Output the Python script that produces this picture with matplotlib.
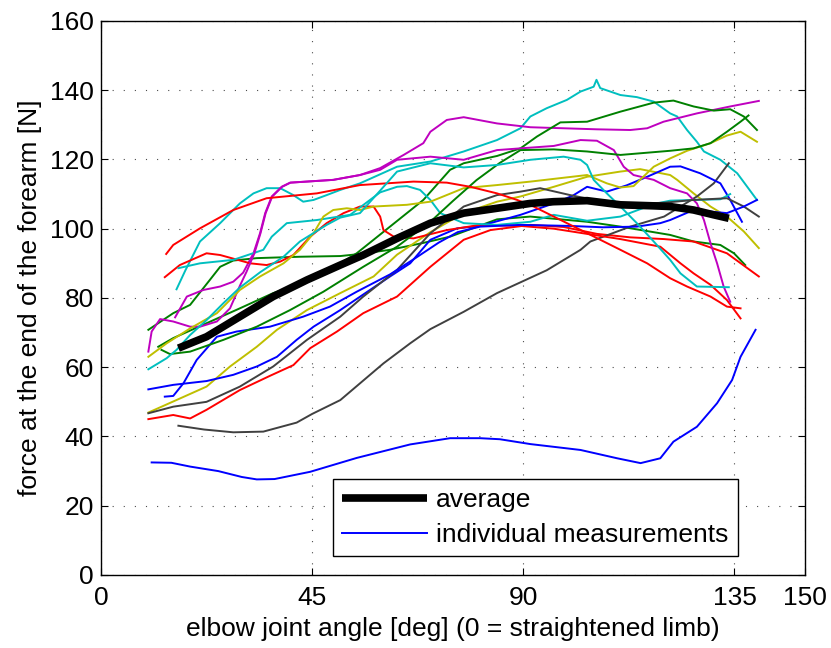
import matplotlib
matplotlib.use("Agg")
import matplotlib.pyplot as plt
from matplotlib.lines import Line2D

plt.rcParams["font.family"] = ["Liberation Sans", "DejaVu Sans"]

b1_x = [10.8, 15, 19, 25, 30, 33.2, 37, 44.6, 54.5, 65.9, 74.4, 80.8, 85, 91.5, 102.2, 110, 115, 119.2, 122, 127, 131.3, 134.5, 136.3, 139.5]
b1_y = [32.5, 32.4, 31.3, 30, 28.3, 27.6, 27.7, 29.8, 33.8, 37.7, 39.5, 39.5, 39.2, 37.8, 36.1, 33.7, 32.3, 33.7, 38.5, 42.8, 49.6, 56.3, 63, 70.8]

g1_x = [10.1, 15.4, 19, 23.2, 25.4, 28.2, 33.2, 42.4, 51, 55.2, 61.6, 68.7, 74.4, 84.4, 91.5, 103.6, 110.7, 121.3, 126.3, 132, 134.9, 137.3]
g1_y = [70.8, 75.6, 78, 85.2, 89, 90.8, 91.5, 91.9, 92.1, 92.7, 93.9, 95.9, 97.7, 102.7, 103.5, 102, 100.6, 98.2, 96.3, 95.3, 92.9, 89.5]

r1_x = [10.1, 15.4, 19, 22.5, 29.6, 36, 41, 44.6, 50.3, 55.9, 63.1, 70.2, 77.3, 83, 91.5, 98.6, 105.7, 112.8, 120, 126.3, 133.4, 140.2]
r1_y = [45, 46.2, 45.2, 47.7, 53.4, 57.5, 60.6, 65.5, 70.3, 75.6, 80.4, 89, 96.8, 99.6, 101.1, 100.5, 98.5, 97.5, 97, 96.3, 92.9, 86.2]

c1_x = [16.1, 18, 21.1, 25.4, 29.6, 32.5, 35.3, 38.2, 41, 43.1, 45.3, 48.1, 51, 55.2, 63.1, 70.2, 77.3, 84.4, 89.4, 91.5, 95, 99.3, 102.2, 105, 105.6, 106.4, 110.7, 114.2, 117.8, 121.3, 122.8, 124.9, 127, 128.5, 132, 135.6, 139.8]
c1_y = [82.5, 88, 96.3, 101.6, 107.3, 110.2, 111.7, 111.7, 109.7, 107.8, 108.3, 109.7, 111.2, 113.1, 117.9, 119.4, 122.3, 125.6, 129, 132.4, 134.8, 137.2, 139.6, 141, 143, 140.6, 138.6, 138, 136.7, 133.3, 132.4, 128.5, 125.1, 122.3, 119.9, 116, 108.3]

m1_x = [15.8, 18.3, 21.8, 25.4, 28.2, 30.3, 32.5, 33.9, 35, 36.4, 38.5, 40.3, 49.5, 55.2, 59.5, 64.5, 68.7, 70.2, 73.7, 77.3, 84.4, 91.5, 105.7, 112.8, 116.4, 119.9, 127, 134.1, 140.2]
m1_y = [74.4, 80.4, 82.3, 83.3, 84.7, 87.3, 92.9, 98.7, 104.5, 109.3, 112.1, 113.3, 114.1, 115.5, 117.5, 121.3, 124.7, 128, 131.4, 132.2, 130.4, 129.3, 128.7, 128.5, 129, 130.9, 133.3, 135.3, 136.9]

y1_x = [10.1, 15.4, 22.5, 27.5, 33.2, 37.5, 43.9, 51, 58.1, 63.1, 70.2, 77.3, 84.4, 89.4, 96.5, 103.6, 110.7, 114.9, 121.3, 122.8, 126.3, 129.9, 133.4, 137, 140.2]
y1_y = [46.9, 50.1, 54.4, 60.2, 65.9, 70.8, 76.5, 81.4, 86.2, 92.5, 99, 104.5, 107.8, 109.3, 112.1, 115, 116.5, 117.2, 115.5, 114.1, 110.2, 106.4, 103.5, 99.2, 94.4]

k1_x = [16.5, 22, 28.2, 34.6, 41.7, 45, 51, 60.2, 65.9, 70.2, 77.3, 84.4, 95, 102.2, 104.3, 112.8, 120, 127, 130.6, 133.8]
k1_y = [43.1, 42, 41.2, 41.4, 44, 46.5, 50.5, 61.1, 66.9, 71, 76, 81.4, 88, 93.9, 96.3, 100.6, 103.5, 109.3, 113.1, 118.9]

b2_x = [10.1, 15.4, 22.5, 28.2, 33.2, 37.5, 41.7, 45.3, 51, 55.9, 61.6, 65.9, 70.2, 75.9, 80.8, 89.4, 96.5, 100.5, 103.6, 107.8, 112, 116.4, 121.3, 123.5, 127.7, 132, 134.1, 136.6]
b2_y = [53.6, 54.9, 56, 57.8, 60.2, 63, 67.9, 71.7, 76.5, 81, 86.2, 90, 96.8, 100.1, 100.8, 104, 107.3, 109.5, 112.1, 110.7, 112.5, 115, 117.9, 118, 116, 113.1, 108.3, 102]

g2_x = [12.2, 15.4, 22.5, 29.6, 36.7, 41.7, 47.4, 54.5, 61.6, 68.7, 74.4, 77.3, 84.4, 89.4, 92.9, 97.9, 103.6, 110.7, 117.8, 122, 126.3, 130.6, 134.1, 137, 139.8]
g2_y = [65.9, 68.4, 72.7, 77, 81.4, 83.8, 87.1, 92.9, 100.6, 108.3, 117, 118.9, 121, 123.2, 126.6, 130.7, 130.9, 133.8, 136.4, 137, 135.3, 134.1, 134.5, 132.4, 128.5]

r2_x = [13.6, 16.8, 22.5, 25.4, 31.8, 35.3, 38.2, 41, 44.6, 48.1, 51.7, 55.2, 58.1, 59.5, 60.2, 62.4, 66.6, 73.7, 80.8, 89.4, 96.5, 103.6, 110.7, 119.2, 123.5, 126.3, 129.9, 133.4, 136.3]
r2_y = [86, 89.5, 92.9, 92.4, 90, 89.5, 90.5, 92.4, 97.7, 101.6, 104.5, 106.4, 106.4, 103.5, 99.6, 97.7, 97.2, 99.6, 101.1, 100.8, 100, 98.5, 97, 94.8, 90, 87.1, 83.8, 79.4, 74.1]

c2_x = [16.5, 21.1, 28.2, 34.6, 36.4, 39.6, 46, 53.1, 59.5, 63.1, 65.2, 68, 70.2, 72.3, 77.3, 84.4, 91.5, 96.5, 103.6, 110.7, 117.8, 121.3, 126.3, 132, 133.4, 134.1]
c2_y = [88.6, 90, 91, 93.9, 97.7, 101.6, 102.5, 104, 110.5, 112.1, 112.3, 111.2, 108.3, 104.5, 101.6, 101.1, 102, 104, 102.3, 103.5, 107.1, 108.1, 108.3, 108.5, 109.5, 110]

m2_x = [10.1, 10.8, 12.6, 15.4, 19, 21.1, 24.7, 27.5, 29.6, 31, 32.7, 34, 35.1, 36.5, 38.6, 40.4, 49.5, 55.2, 59.5, 63.1, 70.2, 77.3, 84.4, 89.4, 96.5, 102.2, 105.7, 109.3, 111.4, 113.5, 117.8, 121.3, 124.9, 127, 128.5, 129.9, 131.3, 132.7, 134.1]
m2_y = [64.5, 70.3, 73.9, 73.2, 71.7, 71.7, 73.2, 77, 83.5, 87.5, 92.9, 98.7, 104.5, 109.3, 112.1, 113.3, 114.1, 115.5, 117, 119.9, 120.8, 119.9, 122.7, 123.2, 123.9, 125.6, 125.4, 122.7, 117.9, 115.5, 114.1, 111.7, 110.2, 107.3, 102.5, 95.8, 90, 83.3, 78.9]

y2_x = [10.1, 14, 19, 24.7, 29.6, 33.9, 38.9, 42.4, 45.3, 47.4, 49.5, 52.4, 55.2, 58.1, 65.2, 70.2, 77.3, 84.4, 91.5, 103.6, 107.8, 110.7, 113.5, 117.8, 121.3, 124.9, 129.9, 133.4, 136.3, 139.8]
y2_y = [63, 66.9, 71.2, 75.6, 82.3, 86.2, 90, 93.9, 98.7, 103.5, 105.4, 105.9, 105.4, 106.4, 106.9, 107.8, 111.7, 112.6, 113.6, 115.5, 113.1, 111.9, 112.3, 117.9, 120.3, 122.5, 124.7, 126.9, 128, 125.1]

k2_x = [10.1, 15.4, 22.5, 29.6, 36.7, 43.9, 51, 55.9, 63.1, 70.2, 77.3, 84.4, 89.4, 93.6, 100, 110, 120, 126.3, 133.4, 137, 140.2]
k2_y = [46.7, 48.6, 50, 54.4, 60.2, 67.9, 74.6, 80.4, 88.1, 98.7, 106.4, 109.7, 110.7, 111.7, 109.7, 107, 107.5, 108.3, 108.8, 106.4, 103.5]

b3_x = [13.6, 15.4, 17.6, 20.4, 24.7, 28.9, 36, 43.1, 48.8, 54.5, 61.6, 67, 72, 76, 80.8, 89.4, 100, 107, 114.2, 119.2, 121.3, 126.3, 133.4, 137, 139.8]
b3_y = [51.5, 51.7, 55.4, 62.1, 68.8, 70.3, 71.7, 74.6, 77.5, 81.8, 86.8, 91.5, 96, 99, 100.6, 101.1, 100.8, 100.4, 100.6, 101.6, 102.5, 105.4, 104.5, 106.4, 108.3]

g3_x = [12.9, 14.7, 19, 26.1, 33.2, 40.3, 47.4, 55.9, 63.1, 70.2, 75, 80, 85, 89.4, 96.5, 103.6, 110.7, 121.3, 126.3, 129.9, 133.4, 136.3, 138]
g3_y = [65, 63.8, 64.5, 67.9, 71.7, 76.5, 81.8, 89, 94.8, 102, 108, 114, 119, 122.7, 122.9, 122.3, 121.3, 122.5, 123.2, 124.7, 128, 130.9, 132.7]

r3_x = [13.9, 15.4, 21.1, 28.2, 35.3, 46, 55.2, 66.6, 73.7, 78.7, 84.4, 88.7, 92.2, 96.5, 103.6, 110.7, 116.4, 121.3, 124.9, 129.9, 133.4, 136.3]
r3_y = [92.7, 95.3, 100.1, 105.4, 108.8, 110.2, 112.6, 113.6, 113.3, 112.1, 110.2, 108.3, 106.4, 103.5, 98.7, 93.9, 90, 85.7, 83.3, 80.4, 77.5, 77]

c3_x = [10.1, 14, 16.1, 19, 22.5, 26.1, 29.6, 34, 38.9, 42.4, 48.1, 51, 55.2, 59.5, 63.1, 70.2, 77.3, 84.4, 91.5, 98.6, 102.2, 103.6, 105, 107.8, 110.7, 114.2, 117.8, 121.3, 123.5, 127, 133.8]
c3_y = [59.4, 62.6, 65, 69.3, 73.6, 78.5, 83, 87.5, 91.9, 96.3, 101.1, 103.2, 104.5, 111, 116.5, 118.9, 117.7, 118.4, 119.9, 120.8, 119.9, 118.4, 114.1, 110.2, 106.4, 101.6, 96.3, 91, 87.1, 83.3, 83.1]

avg_x = [16.5, 22.5, 29.6, 36.7, 43.9, 51, 55.9, 63.1, 70.2, 77.3, 84.4, 91.5, 96.5, 103.6, 110.7, 117.8, 121.3, 126.3, 130.6, 133.8]
avg_y = [65.5, 68.8, 74.6, 80.4, 85.2, 89.5, 92.4, 97.2, 101.6, 104.5, 105.9, 107.3, 107.8, 108.1, 106.9, 106.6, 106.4, 105.4, 104, 103]

# MATLAB default color order
col = {"b": (0, 0, 1), "g": (0, 0.5, 0), "r": (1, 0, 0), "c": (0, 0.75, 0.75),
       "m": (0.75, 0, 0.75), "y": (0.75, 0.75, 0), "k": (0.25, 0.25, 0.25)}

curves = [
    ("b", b1_x, b1_y), ("g", g1_x, g1_y), ("r", r1_x, r1_y), ("c", c1_x, c1_y),
    ("m", m1_x, m1_y), ("y", y1_x, y1_y), ("k", k1_x, k1_y),
    ("b", b2_x, b2_y), ("g", g2_x, g2_y), ("r", r2_x, r2_y), ("c", c2_x, c2_y),
    ("m", m2_x, m2_y), ("y", y2_x, y2_y), ("k", k2_x, k2_y),
    ("b", b3_x, b3_y), ("g", g3_x, g3_y), ("r", r3_x, r3_y), ("c", c3_x, c3_y),
]

fig = plt.figure(figsize=(8.31, 6.48), dpi=100)
ax = fig.add_axes([0.1215, 0.1127, 0.847, 0.855])

for c, xs, ys in curves:
    ax.plot(xs, ys, color=col[c], linewidth=1.4, zorder=3)

ax.plot(avg_x, avg_y, color="black", linewidth=5.5, solid_capstyle="butt", zorder=4)

ax.set_xlim(0, 150)
ax.set_ylim(0, 160)
ax.set_xticks([0, 45, 90, 135, 150])
ax.set_yticks(range(0, 161, 20))
ax.grid(True, color="black", linestyle=(0, (1, 9)), linewidth=0.8, alpha=0.7)
ax.set_axisbelow(True)
ax.tick_params(direction="in", length=5, width=0.8, top=True, right=True, labelsize=19)
ax.tick_params(axis="x", pad=8)
ax.tick_params(axis="y", pad=5)
for s in ax.spines.values():
    s.set_linewidth(1.0)

ax.set_xlabel("elbow joint angle [deg] (0 = straightened limb)", fontsize=19, labelpad=5)
ax.set_ylabel("force at the end of the forearm [N]", fontsize=19, labelpad=6)

handles = [
    Line2D([], [], color="black", linewidth=5.5, solid_capstyle="butt"),
    Line2D([], [], color=col["b"], linewidth=1.4),
]
leg = ax.legend(handles, ["average", "individual measurements"], loc="lower left",
                bbox_to_anchor=(0.33, 0.034), borderaxespad=0, fontsize=19,
                handlelength=3.2, handletextpad=0.35, borderpad=0.35,
                labelspacing=0.4, fancybox=False, framealpha=1,
                edgecolor="black")
leg.get_frame().set_linewidth(1.0)
leg.set_zorder(5)

fig.savefig("out.png", dpi=100)
